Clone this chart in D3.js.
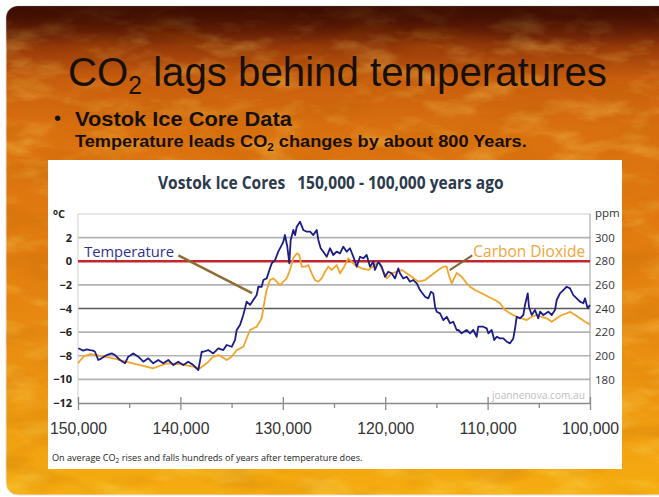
<!DOCTYPE html>
<html>
<head>
<meta charset="utf-8">
<script src="https://cdn.jsdelivr.net/npm/d3@7/dist/d3.min.js"></script>
<style>
html, body { margin: 0; padding: 0; background: #fff; }
svg { display: block; }
</style>
</head>
<body>
<div id="slide"></div>
<script>
// values (years before present)
var tempYears = [149970,149480,149150,148830,148510,148340,148020,147690,147200,146710,
    146390,145900,145410,145090,144600,144110,143620,143130,142650,142160,
    141670,141180,140690,140210,139720,139230,138740,138250,137920,137760,
    137280,136790,136300,135810,135480,134990,134670,134500,134180,133860,
    133690,133530,133200,132880,132550,132390,132060,131900,131570,131250,
    131080,130760,130440,130110,129950,129790,129560,129360,129230,128970,
    128800,128640,128320,128000,127660,127340,127020,126690,126530,126300,
    126050,125710,125390,125070,124740,124410,124090,123760,123440,123110,
    122780,122460,122140,121810,121480,121160,121000,120670,120340,120020,
    119700,119370,119040,118720,118560,118230,117900,117580,117260,116920,
    116600,116110,115790,115530,115300,115130,114970,114650,114320,113990,
    113670,113350,113020,112860,112540,112050,111720,111400,111070,110910,
    110420,110090,109930,109600,109350,109110,108790,108470,108130,107810,
    107490,107320,107160,106840,106510,106350,106080,105960,105690,105370,
    105050,104880,104560,104070,103740,103420,103250,102930,102610,102280,
    101950,101630,101300,100980,100650,100490,100230,100000];

var tempValues = [-7.37,-7.57,-7.46,-7.52,-7.57,-7.66,-8.36,-8.22,-7.94,-7.8,
    -7.94,-8.36,-8.64,-8.08,-7.8,-8.08,-8.5,-8.22,-8.64,-8.36,
    -8.64,-8.36,-8.79,-8.5,-8.79,-8.5,-8.79,-9.21,-7.66,-7.66,
    -7.52,-7.8,-7.37,-7.52,-7.09,-7.24,-6.67,-5.82,-5.4,-4.55,
    -3.99,-3.42,-3.7,-3.28,-2.86,-2.16,-2.16,-1.59,-1.45,-0.6,
    -0.18,0.1,0.81,1.37,1.65,2.22,1.23,-0.18,1.8,2.65,
    2.22,2.92,3.35,2.65,2.5,2.5,2.22,2.65,1.8,1.1,
    0.81,0.38,1.1,0.53,0.81,0.67,1.23,0.81,1.1,0.38,
    -0.46,0.38,0.25,0.53,-0.46,-0.04,-0.74,-0.04,-0.46,-1.31,
    -0.89,-1.02,-1.45,-0.6,-1.02,-1.45,-1.31,-1.73,-1.59,-1.87,
    -2.44,-3.0,-3.14,-2.58,-2.72,-3.85,-4.27,-4.41,-4.98,-4.7,
    -5.25,-5.12,-5.82,-5.82,-6.1,-5.82,-6.1,-5.82,-6.39,-5.54,
    -5.54,-5.68,-6.1,-5.82,-6.67,-6.39,-6.53,-6.53,-6.81,-6.95,
    -6.53,-5.68,-4.7,-4.83,-4.55,-3.7,-2.72,-3.85,-4.55,-4.13,
    -4.83,-4.27,-4.55,-4.27,-4.55,-4.13,-3.28,-2.72,-2.44,-2.16,
    -2.3,-2.86,-3.14,-3.42,-3.56,-3.14,-3.99,-3.7];

var co2Years = [150000,149480,148830,147850,146550,145240,143950,142650,141340,140040,
    138740,138090,137430,136790,136300,135970,135480,134990,134500,133860,
    133200,132550,132060,131740,131570,131250,130930,130600,130270,129950,
    129620,129300,128970,128640,128390,128150,127830,127510,127180,126860,
    126530,126200,125880,125560,125220,124740,124410,124090,123600,122950,
    122300,121650,121000,120670,120180,119850,119370,118880,118390,117900,
    117410,116770,116110,115460,114810,114320,113990,113840,113510,113020,
    112530,112040,111720,111230,110580,109930,109280,108790,108300,107810,
    107160,106670,106180,105690,105200,104720,104230,103740,103250,102770,
    102280,101950,101460,100980,100490,100000];

var co2Values = [193.6,199.2,201.5,199.8,197.8,194.9,192.1,189.4,193.6,193,
    190.7,189.4,193.6,199.2,200.6,199.2,196.4,199.2,204.8,207.6,
    221.8,224.6,231.7,248.6,255.7,264.1,265.5,262.7,259.9,262.7,
    265.5,272.6,282.5,286.7,285.3,275.4,275.4,276.8,269.8,264.1,
    262.7,265.5,271.1,275.4,272.6,276.8,269.8,274,282.5,276.8,
    274,272.6,276.8,279.6,271.1,265.5,269.8,271.1,272.6,269.8,
    266.9,262.7,264.1,268.4,272.6,275.4,275.4,269.8,261.3,270,
    266.9,261.3,258.5,255.7,252.9,250,247.2,244.4,238.7,235.9,
    233,231.7,230.2,233,234.5,233,231.7,228.8,231.7,234.5,
    235.9,237.3,234.5,231.7,228.8,226.6];

var yearTicks = [150000,140000,130000,120000,110000,100000];
var yearMinorTicks = [145000,135000,125000,115000,105000];
var tempTicks = [2,0,-2,-4,-6,-8,-10,-12];
var gridTemps = [4,2,-2,-6,-8,-10];
var co2Ticks = [300,280,260,240,220,200,180];


var W = 659, H = 497;
var SANS = "Liberation Sans, Arial, sans-serif";
var CHART_FONT = "Open Sans, sans-serif";

var svg = d3.select("#slide")
    .append("svg")
    .attr("width", W)
    .attr("height", H);

var defs = svg.append("defs");

// squeeze a text horizontally so it spans the given width from its x
function fitWidth(sel, width) {
    var node = sel.node();
    var bw = node.getBBox().width;
    var x0 = +sel.attr("x");
    sel.attr("transform", "translate(" + x0 + ",0) scale(" + (width / bw) + ",1) translate(" + (-x0) + ",0)");
}

// fire background
var fire = defs.append("linearGradient")
    .attr("id", "fire")
    .attr("x1", 0).attr("y1", 0).attr("x2", 0).attr("y2", 1);
[[0, "#3e0f03"], [0.04, "#6a2005"], [0.09, "#9a3c0a"], [0.15, "#c85e0e"],
 [0.25, "#d9700f"], [0.5, "#e27d10"], [0.78, "#ec9411"], [1, "#f5ad10"]].forEach(function(s) {
    fire.append("stop").attr("offset", s[0]).attr("stop-color", s[1]);
});

var light = defs.append("filter").attr("id", "light")
    .attr("x", 0).attr("y", 0).attr("width", 1).attr("height", 1);
light.append("feTurbulence")
    .attr("type", "fractalNoise")
    .attr("baseFrequency", "0.02 0.05")
    .attr("numOctaves", 4)
    .attr("seed", 7);
light.append("feColorMatrix")
    .attr("type", "matrix")
    .attr("values", "0 0 0 0 1  0 0 0 0 0.78  0 0 0 0 0.15  1.8 0 0 0 -0.85");

var dark = defs.append("filter").attr("id", "dark")
    .attr("x", 0).attr("y", 0).attr("width", 1).attr("height", 1);
dark.append("feTurbulence")
    .attr("type", "fractalNoise")
    .attr("baseFrequency", "0.015 0.04")
    .attr("numOctaves", 3)
    .attr("seed", 21);
dark.append("feColorMatrix")
    .attr("type", "matrix")
    .attr("values", "0 0 0 0 0.5  0 0 0 0 0.13  0 0 0 0 0  -1.8 0 0 0 0.95");

var topShade = defs.append("linearGradient")
    .attr("id", "topShade")
    .attr("x1", 0).attr("y1", 0).attr("x2", 0).attr("y2", 1);
topShade.append("stop").attr("offset", 0).attr("stop-color", "#3a0c02").attr("stop-opacity", 0.85);
topShade.append("stop").attr("offset", 1).attr("stop-color", "#3a0c02").attr("stop-opacity", 0);

defs.append("clipPath").attr("id", "slideClip")
    .append("rect")
    .attr("x", 6).attr("y", 6)
    .attr("width", 700).attr("height", 489)
    .attr("rx", 12);

svg.append("rect")
    .attr("x", 6).attr("y", 6)
    .attr("width", 700).attr("height", 489)
    .attr("rx", 12)
    .attr("fill", "url(#fire)")
    .attr("stroke", "#e2e2e2");

var tex = svg.append("g").attr("clip-path", "url(#slideClip)");
tex.append("rect")
    .attr("x", 6).attr("y", 6).attr("width", 660).attr("height", 489)
    .attr("filter", "url(#light)")
    .attr("opacity", 0.45);
tex.append("rect")
    .attr("x", 6).attr("y", 6).attr("width", 660).attr("height", 489)
    .attr("filter", "url(#dark)")
    .attr("opacity", 0.35);
tex.append("rect")
    .attr("x", 6).attr("y", 6).attr("width", 660).attr("height", 40)
    .attr("fill", "url(#topShade)");

// slide title
var title = svg.append("text")
    .attr("x", 68)
    .attr("y", 86)
    .attr("font-family", SANS)
    .attr("font-size", 41)
    .attr("fill", "#161008");
title.append("tspan").text("CO");
title.append("tspan").attr("font-size", 25).attr("dy", 8).text("2");
title.append("tspan").attr("dy", -8).text(" lags behind temperatures");
fitWidth(title, 539);

svg.append("text")
    .attr("x", 54).attr("y", 125)
    .attr("font-family", SANS)
    .attr("font-size", 20)
    .attr("fill", "#161008")
    .text("•");

var bullet = svg.append("text")
    .attr("x", 75).attr("y", 126)
    .attr("font-family", SANS)
    .attr("font-size", 20)
    .attr("font-weight", "bold")
    .attr("fill", "#161008")
    .text("Vostok Ice Core Data");
fitWidth(bullet, 218);

var sub = svg.append("text")
    .attr("x", 75).attr("y", 147)
    .attr("font-family", SANS)
    .attr("font-size", 17)
    .attr("font-weight", "bold")
    .attr("fill", "#161008");
sub.append("tspan").text("Temperature leads CO");
sub.append("tspan").attr("font-size", 11).attr("dy", 4).text("2");
sub.append("tspan").attr("dy", -4).text(" changes by about 800 Years.");
fitWidth(sub, 452);

// white chart panel
svg.append("rect")
    .attr("x", 48).attr("y", 160)
    .attr("width", 574).attr("height", 309)
    .attr("fill", "#fff");

var chartTitle = svg.append("text")
    .attr("x", 158).attr("y", 189)
    .attr("font-family", CHART_FONT)
    .attr("font-size", 17)
    .attr("font-weight", "bold")
    .attr("fill", "#2b3a4d")
    .style("white-space", "pre")
    .text("Vostok Ice Cores   150,000 - 100,000 years ago");
fitWidth(chartTitle, 346);

var x = d3.scaleLinear().domain([150000, 100000]).range([78, 590]);
var yT = d3.scaleLinear().domain([4, -12]).range([214, 403]);
var yC = d3.scaleLinear().domain([320, 160]).range([214, 403]);

var chart = svg.append("g").attr("class", "chart");

// grid
chart.selectAll(".grid")
    .data(gridTemps)
    .enter().append("line")
    .attr("class", "grid")
    .attr("x1", x(150000)).attr("x2", x(100000))
    .attr("y1", function(d) { return yT(d); })
    .attr("y2", function(d) { return yT(d); })
    .attr("stroke", function(d) { return d == 4 ? "#cfcfcf" : "#b3b3b3"; })
    .attr("stroke-width", function(d) { return d == 4 ? 1 : 1.6; });

chart.append("line")
    .attr("x1", x(150000)).attr("x2", x(100000))
    .attr("y1", yT(-4)).attr("y2", yT(-4))
    .attr("stroke", "#5a5a5a")
    .attr("stroke-width", 1.6);

chart.append("line")
    .attr("x1", x(150000)).attr("x2", x(150000))
    .attr("y1", yT(4)).attr("y2", yT(-12))
    .attr("stroke", "#cfcfcf");

chart.append("line")
    .attr("x1", x(100000)).attr("x2", x(100000))
    .attr("y1", yT(4)).attr("y2", yT(-12))
    .attr("stroke", "#9a9a9a");

var mark = chart.append("text")
    .attr("x", 492).attr("y", 399)
    .attr("font-family", CHART_FONT)
    .attr("font-size", 10)
    .attr("fill", "#bdbdbd")
    .text("joannenova.com.au");
fitWidth(mark, 94);

// bottom axis
var xAxis = chart.append("g")
    .attr("transform", "translate(0," + yT(-12) + ")")
    .call(d3.axisBottom(x).tickValues(yearTicks).tickSize(7).tickSizeOuter(0)
        .tickPadding(12).tickFormat(d3.format(",")));
xAxis.select(".domain").attr("stroke", "#8a8a8a").attr("stroke-width", 1.3);
xAxis.selectAll(".tick line").attr("y1", -6).attr("stroke", "#8a8a8a").attr("stroke-width", 1.3);
xAxis.selectAll(".tick text")
    .attr("font-family", SANS)
    .attr("font-size", 17)
    .attr("fill", "#333")
    .attr("textLength", 57)
    .attr("lengthAdjust", "spacingAndGlyphs");

var xMinor = chart.append("g")
    .attr("transform", "translate(0," + yT(-12) + ")")
    .call(d3.axisBottom(x).tickValues(yearMinorTicks).tickSize(5).tickFormat(""));
xMinor.select(".domain").remove();
xMinor.selectAll(".tick line").attr("stroke", "#8a8a8a").attr("stroke-width", 1.3);

// left axis (degrees)
var yAxis = chart.append("g")
    .attr("transform", "translate(" + x(150000) + ",0)")
    .call(d3.axisLeft(yT).tickValues(tempTicks).tickSize(0).tickPadding(6));
yAxis.select(".domain").remove();
yAxis.selectAll(".tick text")
    .attr("font-family", CHART_FONT)
    .attr("font-size", 11)
    .attr("font-weight", "bold")
    .attr("fill", "#222");

var degC = chart.append("text")
    .attr("x", 53).attr("y", 218)
    .attr("font-family", CHART_FONT)
    .attr("font-size", 11)
    .attr("font-weight", "bold")
    .attr("fill", "#222");
degC.append("tspan").attr("font-size", 8).attr("dy", -3).text("o");
degC.append("tspan").attr("dy", 3).text("C");

// right axis (ppm)
var y2Axis = chart.append("g")
    .attr("transform", "translate(" + x(100000) + ",0)")
    .call(d3.axisRight(yC).tickValues(co2Ticks).tickSize(0).tickPadding(5));
y2Axis.select(".domain").remove();
y2Axis.selectAll(".tick text")
    .attr("font-family", CHART_FONT)
    .attr("font-size", 11.5)
    .attr("fill", "#333");

chart.append("text")
    .attr("x", 595).attr("y", 217)
    .attr("font-family", CHART_FONT)
    .attr("font-size", 11.5)
    .attr("fill", "#333")
    .text("ppm");

// series
var co2Line = d3.line()
    .x(function(d, i) { return x(co2Years[i]); })
    .y(function(d) { return yC(d); });

var tempLine = d3.line()
    .x(function(d, i) { return x(tempYears[i]); })
    .y(function(d) { return yT(d); });

chart.append("line")
    .attr("x1", x(150000)).attr("x2", x(100000))
    .attr("y1", yT(0)).attr("y2", yT(0))
    .attr("stroke", "#c4262e")
    .attr("stroke-width", 2.6);

chart.append("path")
    .datum(co2Values)
    .attr("fill", "none")
    .attr("stroke", "#f2a52c")
    .attr("stroke-width", 1.8)
    .attr("stroke-linejoin", "round")
    .attr("d", co2Line);

chart.append("path")
    .datum(tempValues)
    .attr("fill", "none")
    .attr("stroke", "#1d1d85")
    .attr("stroke-width", 1.8)
    .attr("stroke-linejoin", "round")
    .attr("d", tempLine);

// labels with pointers
var tLabel = chart.append("text")
    .attr("x", x(149400)).attr("y", yT(0.4))
    .attr("font-family", CHART_FONT)
    .attr("font-size", 15)
    .attr("fill", "#2f3192")
    .text("Temperature");
fitWidth(tLabel, 90);

chart.append("line")
    .attr("x1", x(140200)).attr("y1", yT(0.5))
    .attr("x2", x(133000)).attr("y2", yT(-2.7))
    .attr("stroke", "#8e6c33")
    .attr("stroke-width", 2.4);

var cLabel = chart.append("text")
    .attr("x", x(111400)).attr("y", yC(284))
    .attr("font-family", CHART_FONT)
    .attr("font-size", 15.5)
    .attr("fill", "#f0a63a")
    .text("Carbon Dioxide");
fitWidth(cLabel, 112);

chart.append("line")
    .attr("x1", x(111500)).attr("y1", yC(285))
    .attr("x2", x(113700)).attr("y2", yC(272.5))
    .attr("stroke", "#7c6a36")
    .attr("stroke-width", 2);

// caption
var cap = svg.append("text")
    .attr("x", 52).attr("y", 461)
    .attr("font-family", CHART_FONT)
    .attr("font-size", 9.5)
    .attr("fill", "#222");
cap.append("tspan").text("On average CO");
cap.append("tspan").attr("font-size", 7).attr("dy", 2).text("2");
cap.append("tspan").attr("dy", -2).text(" rises and falls hundreds of years after temperature does.");
fitWidth(cap, 311);
</script>
</body>
</html>
